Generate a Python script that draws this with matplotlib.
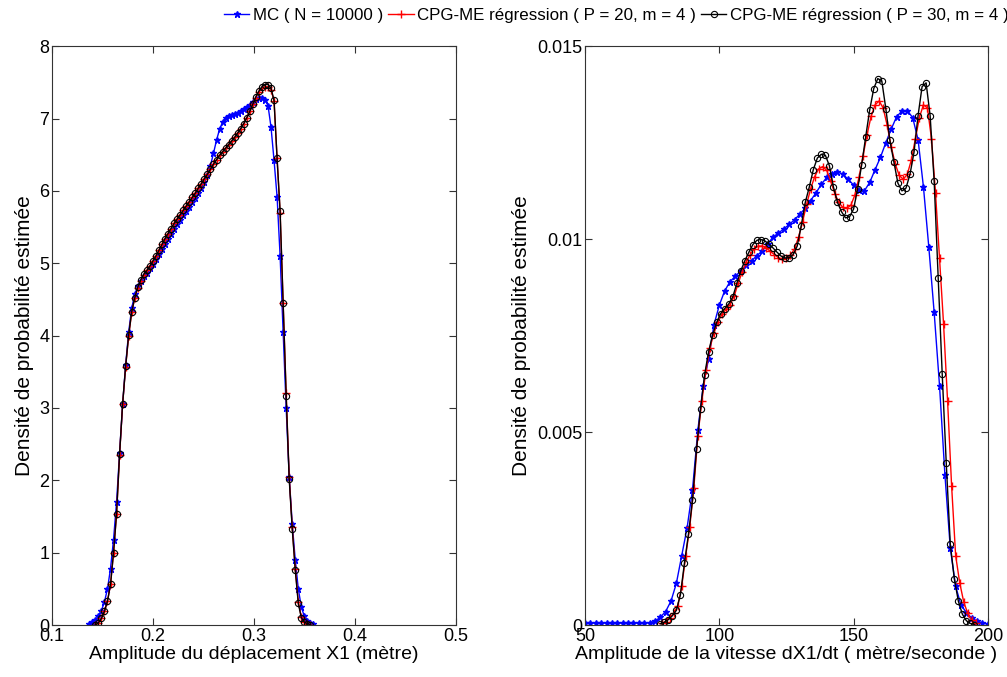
import numpy as np
import matplotlib
matplotlib.use("Agg")
import matplotlib.pyplot as plt

# ---- left panel : displacement amplitude X1 ----
# evaluation grids (evenly spaced, as in the kernel density estimate)
x1_mc = np.linspace(0.137, 0.359, 75)
x1_p20 = np.linspace(0.143, 0.356, 72)
x1_p30 = np.linspace(0.143, 0.356, 72)

pdf1_mc = [0.02, 0.04, 0.07, 0.12, 0.20, 0.32, 0.50, 0.78, 1.18, 1.70,
           2.38, 3.05, 3.60, 4.05, 4.38, 4.57, 4.68, 4.76, 4.82, 4.87,
           4.93, 4.99, 5.06, 5.13, 5.20, 5.27, 5.34, 5.41, 5.48, 5.54,
           5.60, 5.66, 5.72, 5.78, 5.84, 5.90, 5.97, 6.04, 6.12, 6.22,
           6.35, 6.52, 6.70, 6.85, 6.95, 7.01, 7.04, 7.05, 7.06, 7.08,
           7.10, 7.13, 7.16, 7.19, 7.23, 7.27, 7.29, 7.29, 7.26, 7.18,
           6.88, 6.42, 5.92, 5.10, 4.05, 3.00, 2.05, 1.40, 0.90, 0.50,
           0.25, 0.12, 0.06, 0.03, 0.01]

pdf1_p20 = [0.00, 0.03, 0.09, 0.19, 0.33, 0.56, 1.00, 1.54, 2.35, 3.05,
            3.57, 4.00, 4.32, 4.52, 4.66, 4.76, 4.84, 4.90, 4.96, 5.03,
            5.10, 5.18, 5.26, 5.34, 5.41, 5.48, 5.55, 5.61, 5.67, 5.73,
            5.79, 5.85, 5.91, 5.97, 6.04, 6.10, 6.17, 6.23, 6.30, 6.37,
            6.43, 6.49, 6.54, 6.59, 6.64, 6.69, 6.74, 6.80, 6.86, 6.93,
            7.01, 7.10, 7.20, 7.29, 7.37, 7.42, 7.44, 7.44, 7.40, 7.24,
            6.45, 5.70, 4.45, 3.20, 2.05, 1.35, 0.78, 0.32, 0.11, 0.04,
            0.02, 0.00]

pdf1_p30 = [0.00, 0.03, 0.09, 0.19, 0.33, 0.56, 1.00, 1.54, 2.37, 3.06,
            3.58, 4.01, 4.33, 4.52, 4.67, 4.77, 4.85, 4.90, 4.96, 5.03,
            5.10, 5.18, 5.26, 5.34, 5.41, 5.48, 5.55, 5.61, 5.67, 5.73,
            5.79, 5.85, 5.91, 5.97, 6.04, 6.10, 6.17, 6.23, 6.30, 6.37,
            6.43, 6.49, 6.54, 6.59, 6.64, 6.69, 6.74, 6.80, 6.86, 6.93,
            7.01, 7.10, 7.20, 7.30, 7.38, 7.44, 7.47, 7.47, 7.42, 7.25,
            6.45, 5.72, 4.45, 3.17, 2.02, 1.33, 0.76, 0.30, 0.10, 0.04,
            0.02, 0.00]

# ---- right panel : velocity amplitude dX1/dt ----
x2_mc = np.linspace(50, 200, 76)
x2_p20 = np.linspace(78.5, 195.5, 79)
x2_p30 = np.linspace(78.0, 195.0, 79)

pdf2_mc = [0.00005, 0.00005, 0.00005, 0.00005, 0.00005, 0.00005, 0.00005,
           0.00005, 0.00005, 0.00005, 0.00005, 0.00005, 0.00006, 0.00010,
           0.00020, 0.00035, 0.00062, 0.00108, 0.00180, 0.00252, 0.00350,
           0.00505, 0.00620, 0.00690, 0.00778, 0.00829, 0.00866, 0.00890,
           0.00904, 0.00918, 0.00932, 0.00944, 0.00957, 0.00970, 0.00988,
           0.01005, 0.01016, 0.01026, 0.01038, 0.01050, 0.01065, 0.01080,
           0.01100, 0.01120, 0.01142, 0.01160, 0.01170, 0.01175, 0.01168,
           0.01155, 0.01140, 0.01127, 0.01125, 0.01147, 0.01180, 0.01212,
           0.01250, 0.01285, 0.01317, 0.01332, 0.01333, 0.01315, 0.01258,
           0.01136, 0.00980, 0.00810, 0.00620, 0.00390, 0.00200, 0.00100,
           0.00052, 0.00032, 0.00018, 0.00010, 0.00005, 0.00003]

pdf2_p20 = [0.00004, 0.00009, 0.00018, 0.00030, 0.00050, 0.00100, 0.00180,
            0.00255, 0.00355, 0.00490, 0.00580, 0.00660, 0.00718, 0.00757,
            0.00786, 0.00805, 0.00818, 0.00830, 0.00852, 0.00885, 0.00915,
            0.00940, 0.00960, 0.00975, 0.00982, 0.00982, 0.00977, 0.00968,
            0.00960, 0.00952, 0.00948, 0.00950, 0.00958, 0.00975, 0.01005,
            0.01045, 0.01090, 0.01130, 0.01162, 0.01182, 0.01188, 0.01178,
            0.01150, 0.01118, 0.01095, 0.01082, 0.01080, 0.01088, 0.01115,
            0.01160, 0.01215, 0.01270, 0.01318, 0.01348, 0.01358, 0.01340,
            0.01295, 0.01240, 0.01195, 0.01165, 0.01155, 0.01168, 0.01205,
            0.01260, 0.01315, 0.01348, 0.01340, 0.01260, 0.01120, 0.00950,
            0.00780, 0.00580, 0.00360, 0.00180, 0.00110, 0.00060, 0.00030,
            0.00012, 0.00004]

pdf2_p30 = [0.00003, 0.00007, 0.00014, 0.00024, 0.00038, 0.00078, 0.00160,
            0.00235, 0.00323, 0.00455, 0.00560, 0.00648, 0.00708, 0.00752,
            0.00784, 0.00807, 0.00820, 0.00832, 0.00850, 0.00885, 0.00918,
            0.00944, 0.00966, 0.00986, 0.00997, 0.00999, 0.00995, 0.00987,
            0.00977, 0.00966, 0.00956, 0.00951, 0.00952, 0.00960, 0.00982,
            0.01035, 0.01095, 0.01135, 0.01180, 0.01210, 0.01220, 0.01217,
            0.01190, 0.01135, 0.01095, 0.01071, 0.01055, 0.01058, 0.01078,
            0.01130, 0.01192, 0.01265, 0.01335, 0.01390, 0.01416, 0.01410,
            0.01338, 0.01256, 0.01200, 0.01145, 0.01125, 0.01132, 0.01168,
            0.01225, 0.01320, 0.01395, 0.01405, 0.01320, 0.01150, 0.00900,
            0.00650, 0.00420, 0.00210, 0.00120, 0.00062, 0.00028, 0.00011,
            0.00004, 0.00001]

labels = ["MC ( N = 10000 )",
          "CPG-ME régression ( P = 20, m = 4 )",
          "CPG-ME régression ( P = 30, m = 4 )"]

plt.rcParams["font.family"] = ["Liberation Sans", "DejaVu Sans"]
plt.rcParams["xtick.direction"] = "in"
plt.rcParams["ytick.direction"] = "in"
plt.rcParams["xtick.top"] = True
plt.rcParams["ytick.right"] = True

fig = plt.figure(figsize=(10.07, 6.77), dpi=100)
ax1 = fig.add_axes([0.0516, 0.0768, 0.401, 0.855])
ax2 = fig.add_axes([0.581, 0.0768, 0.400, 0.855])


def draw(ax, xs, ys):
    (xm, x20, x30), (ym, y20, y30) = xs, ys
    h1, = ax.plot(xm, ym, "-*", color="blue", lw=1.0, ms=4.5)
    h2, = ax.plot(x20, y20, "-+", color="red", lw=1.0, ms=5.5)
    h3, = ax.plot(x30, y30, "-o", color="black", lw=1.0, ms=4.5,
                  mfc="none", mew=0.8)
    for s in ax.spines.values():
        s.set_color("#333333")
        s.set_linewidth(0.8)
    ax.tick_params(labelsize=13, length=5, color="#333333", pad=2)
    return [h1, h2, h3]


handles = draw(ax1, (x1_mc, x1_p20, x1_p30), (pdf1_mc, pdf1_p20, pdf1_p30))
ax1.set_xlim(0.1, 0.5)
ax1.set_ylim(0, 8)
ax1.set_xticks([0.1, 0.2, 0.3, 0.4, 0.5])
ax1.set_xticklabels(["0.1", "0.2", "0.3", "0.4", "0.5"])
ax1.set_yticks(range(9))
ax1.set_xlabel("Amplitude du déplacement X1 (mètre)", fontsize=14, labelpad=1)
ax1.set_ylabel("Densité de probabilité estimée", fontsize=15, labelpad=4)

draw(ax2, (x2_mc, x2_p20, x2_p30), (pdf2_mc, pdf2_p20, pdf2_p30))
ax2.set_xlim(50, 200)
ax2.set_ylim(0, 0.015)
ax2.set_xticks([50, 100, 150, 200])
ax2.set_yticks([0, 0.005, 0.01, 0.015])
ax2.set_yticklabels(["0", "0.005", "0.01", "0.015"])
ax2.set_xlabel("Amplitude de la vitesse dX1/dt ( mètre/seconde )", fontsize=14, labelpad=1)
ax2.set_ylabel("Densité de probabilité estimée", fontsize=15, labelpad=4)

fig.legend(handles, labels, loc="center", bbox_to_anchor=(0.612, 0.977),
           ncol=3, frameon=False, fontsize=12.2, handlelength=1.5,
           handletextpad=0.2, columnspacing=0.3, borderaxespad=0)

fig.savefig("out.png", dpi=100)
